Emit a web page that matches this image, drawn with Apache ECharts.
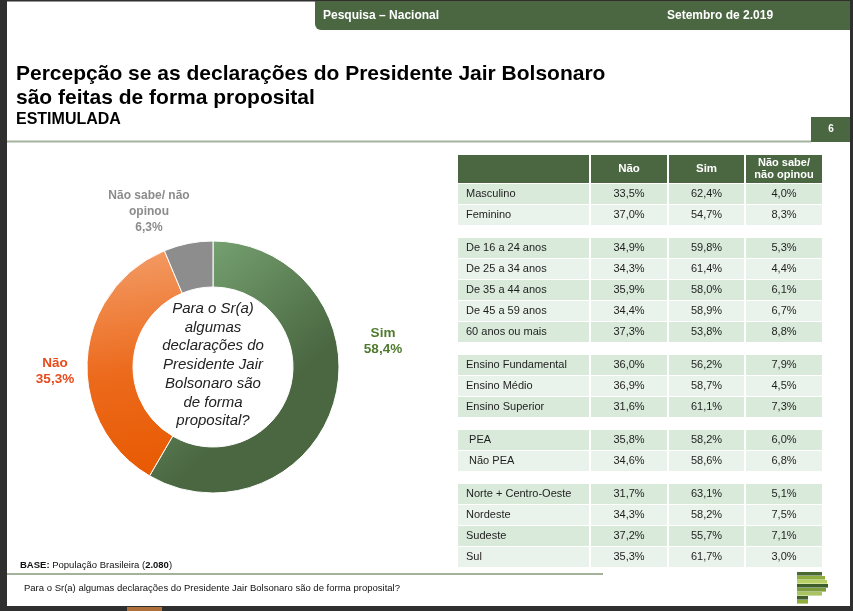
<!DOCTYPE html>
<html>
<head>
<meta charset="utf-8">
<script src="https://cdn.jsdelivr.net/npm/echarts@6/dist/echarts.min.js"></script>
<style>
html,body{margin:0;padding:0;background:#fff;}
#chart{width:853px;height:611px;}
</style>
</head>
<body>
<div id="chart"></div>
<script>
// ---------- data ----------
const pieLabels = ['Sim', 'Não', 'Não sabe/ não\nopinou'];
const pieValues = [58.4, 35.3, 6.3];

const columnHeaders = ['Não', 'Sim', 'Não sabe/\nnão opinou'];
const rowLabels = ['Masculino', 'Feminino', 'De 16 a 24 anos', 'De 25 a 34 anos', 'De 35 a 44 anos',
  'De 45 a 59 anos', '60 anos ou mais', 'Ensino Fundamental', 'Ensino Médio', 'Ensino Superior',
  ' PEA', ' Não PEA', 'Norte + Centro-Oeste', 'Nordeste', 'Sudeste', 'Sul'];
const rowGroup = [0, 0, 1, 1, 1, 1, 1, 2, 2, 2, 3, 3, 4, 4, 4, 4];
const naoValues = [33.5, 37.0, 34.9, 34.3, 35.9, 34.4, 37.3, 36.0, 36.9, 31.6, 35.8, 34.6, 31.7, 34.3, 37.2, 35.3];
const simValues = [62.4, 54.7, 59.8, 61.4, 58.0, 58.9, 53.8, 56.2, 58.7, 61.1, 58.2, 58.6, 63.1, 58.2, 55.7, 61.7];
const nsValues  = [4.0, 8.3, 5.3, 4.4, 6.1, 6.7, 8.8, 7.9, 4.5, 7.3, 6.0, 6.8, 5.1, 7.5, 7.1, 3.0];

// ---------- layout constants ----------
const FONT = '"Liberation Sans", Arial, sans-serif';
const GREEN = '#4a6741';
const GAP = 12 / 21, HEAD = 29 / 21;
const colEdges = [0, 133, 211, 288, 366];
const pieLabelPos = [[383, 341], [55, 371], [149, 212]];
const pieLabelColors = ['#4f7a2e', '#e84a1c', '#8c8c8c'];

const fmt = v => v.toFixed(1).replace('.', ',') + '%';

// build table cells
const cells = [];
const cellText = [];
[''].concat(columnHeaders).forEach((h, c) => { cells.push([c, -1]); cellText.push(h); });
const valueCols = [naoValues, simValues, nsValues];
rowLabels.forEach((lab, r) => {
  cells.push([0, r]); cellText.push(lab);
  valueCols.forEach((arr, k) => { cells.push([k + 1, r]); cellText.push(fmt(arr[r])); });
});
const idxInGroup = rowGroup.map((g, i) => i - rowGroup.indexOf(g));

function renderCell(params, api) {
  const c = api.value(0), r = api.value(1);
  let top, h;
  if (r < 0) { top = -HEAD; h = HEAD; } else { top = r + rowGroup[r] * GAP; h = 1; }
  const p0 = api.coord([colEdges[c], top]);
  const p1 = api.coord([colEdges[c + 1], top + h]);
  const x = p0[0], y = p0[1];
  const w = p1[0] - p0[0] - 2, hh = p1[1] - p0[1] - 1;
  const header = r < 0;
  const fill = header ? GREEN : (idxInGroup[r] % 2 === 0 ? '#d9eadb' : '#eaf3eb');
  const txt = cellText[params.dataIndex];
  return {
    type: 'group',
    children: [
      { type: 'rect', shape: { x, y, width: w, height: hh }, style: { fill } },
      { type: 'text', style: {
          text: txt, x: c === 0 ? x + 8 : x + w / 2, y: y + hh / 2,
          align: c === 0 ? 'left' : 'center', verticalAlign: 'middle',
          fill: header ? '#fff' : '#1e1e1e', fontFamily: FONT,
          fontSize: header ? (c === 3 ? 11 : 11.5) : 11, fontWeight: header ? 'bold' : 'normal',
          lineHeight: 11.5
      } }
    ]
  };
}

const logoBars = [
  [572, 25, '#4a6b2f'], [576, 28, '#8fae3e'], [580, 30, '#b8cf62'], [584, 31, '#3f5f2a'],
  [588, 29, '#7d9d3c'], [592, 25, '#a9c264'], [596, 11, '#3f5f2a'], [600, 11, '#8fae3e']
];

const chart = echarts.init(document.getElementById('chart'));
chart.setOption({
  backgroundColor: '#fff',
  animation: false,
  grid: { left: 458, top: 155, width: 366, height: 413, containLabel: false },
  xAxis: { type: 'value', min: 0, max: 366, show: false },
  yAxis: { type: 'value', min: -HEAD, max: 16 + 4 * GAP, inverse: true, show: false },
  series: [
    {
      type: 'pie',
      center: [213, 367],
      radius: [80, 126],
      startAngle: 90,
      clockwise: true,
      avoidLabelOverlap: false,
      itemStyle: { borderColor: '#fff', borderWidth: 1 },
      label: {
        show: true, position: 'outside', fontFamily: FONT, fontWeight: 'bold',
        lineHeight: 16, align: 'center',
        formatter: p => pieLabels[p.dataIndex] + '\n' + fmt(p.value)
      },
      labelLine: { show: false },
      labelLayout: p => ({ x: pieLabelPos[p.dataIndex][0], y: pieLabelPos[p.dataIndex][1], align: 'center', verticalAlign: 'middle' }),
      data: pieValues.map((v, i) => ({
        value: v, name: pieLabels[i],
        label: { color: pieLabelColors[i], fontSize: i === 2 ? 12 : 13.5 },
        itemStyle: {
          color: i === 0
            ? new echarts.graphic.LinearGradient(0.1, 0, 0.75, 0.55, [{ offset: 0, color: '#7dab79' }, { offset: 1, color: '#4a6741' }])
            : i === 1
              ? new echarts.graphic.LinearGradient(0.1, 0, 0.45, 1, [{ offset: 0, color: '#f39d68' }, { offset: 0.55, color: '#ec6a1c' }, { offset: 1, color: '#e85a02' }])
              : '#8d8d8d'
        }
      })),
      emphasis: { disabled: true }
    },
    {
      type: 'custom',
      coordinateSystem: 'cartesian2d',
      renderItem: renderCell,
      data: cells,
      silent: true
    }
  ],
  graphic: [
    // frame
    { type: 'rect', shape: { x: 0, y: 0, width: 7, height: 611 }, style: { fill: '#2f2f2f' } },
    { type: 'rect', shape: { x: 0, y: 0, width: 853, height: 1.5 }, style: { fill: '#2f2f2f' } },
    { type: 'rect', shape: { x: 850, y: 0, width: 3, height: 611 }, style: { fill: '#2f2f2f' } },
    { type: 'rect', shape: { x: 0, y: 606, width: 853, height: 5 }, style: { fill: '#2f2f2f' } },
    { type: 'rect', shape: { x: 127, y: 607, width: 35, height: 4 }, style: { fill: '#b0703a' } },
    // header bar
    { type: 'rect', shape: { x: 315, y: 1, width: 535, height: 29, r: [0, 0, 0, 6] }, style: { fill: GREEN } },
    { type: 'text', style: { text: 'Pesquisa – Nacional', x: 323, y: 15.5, verticalAlign: 'middle', fill: '#fff', fontFamily: FONT, fontWeight: 'bold', fontSize: 12 } },
    { type: 'text', style: { text: 'Setembro de 2.019', x: 667, y: 15.5, verticalAlign: 'middle', fill: '#fff', fontFamily: FONT, fontWeight: 'bold', fontSize: 12 } },
    // titles
    { type: 'text', style: { text: 'Percepção se as declarações do Presidente Jair Bolsonaro', x: 16, y: 74, verticalAlign: 'middle', fill: '#000', fontFamily: FONT, fontWeight: 'bold', fontSize: 21 } },
    { type: 'text', style: { text: 'são feitas de forma proposital', x: 16, y: 98, verticalAlign: 'middle', fill: '#000', fontFamily: FONT, fontWeight: 'bold', fontSize: 21 } },
    { type: 'text', style: { text: 'ESTIMULADA', x: 16, y: 120, verticalAlign: 'middle', fill: '#000', fontFamily: FONT, fontWeight: 'bold', fontSize: 16 } },
    { type: 'rect', shape: { x: 7, y: 140.5, width: 804, height: 2 }, style: { fill: '#a4b19b' } },
    { type: 'rect', shape: { x: 811, y: 117, width: 39, height: 25 }, style: { fill: GREEN } },
    { type: 'text', style: { text: '6', x: 831, y: 129.5, align: 'center', verticalAlign: 'middle', fill: '#fff', fontFamily: FONT, fontWeight: 'bold', fontSize: 10 } },
    // donut center question
    { type: 'text', style: { text: 'Para o Sr(a)\nalgumas\ndeclarações do\nPresidente Jair\nBolsonaro são\nde forma\nproposital?', x: 213, y: 365, align: 'center', verticalAlign: 'middle', fill: '#222', fontFamily: FONT, fontStyle: 'italic', fontSize: 15, lineHeight: 18.7 } },
    // footer
    { type: 'text', style: { text: '{b|BASE:} População Brasileira ({b|2.080})', x: 20, y: 565, verticalAlign: 'middle', fill: '#111', fontFamily: FONT, fontSize: 9.5, rich: { b: { fontWeight: 'bold', fontSize: 9.5, fontFamily: FONT, fill: '#111' } } } },
    { type: 'rect', shape: { x: 7, y: 573, width: 596, height: 2 }, style: { fill: '#a4b19b' } },
    { type: 'text', style: { text: 'Para o Sr(a) algumas declarações do Presidente Jair Bolsonaro são de forma proposital?', x: 24, y: 588, verticalAlign: 'middle', fill: '#111', fontFamily: FONT, fontSize: 9.5 } }
  ].concat(logoBars.map(b => ({ type: 'rect', shape: { x: 797, y: b[0], width: b[1], height: 3.6 }, style: { fill: b[2] } })))
});
</script>
</body>
</html>
